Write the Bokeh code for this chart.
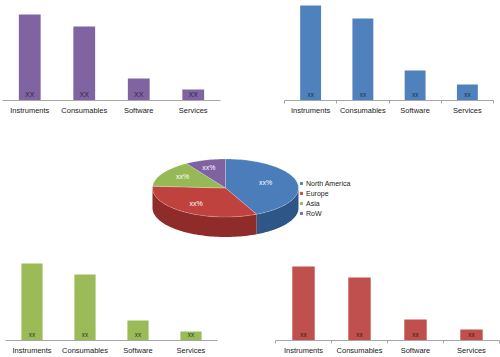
import numpy as np
from bokeh.plotting import figure
from bokeh.layouts import column, row
from bokeh.models import Range1d, FactorRange, ColumnDataSource, FixedTicker
from bokeh.embed import file_html
from bokeh.resources import INLINE
from bokeh.core.properties import value

# ---------------- data ----------------
categories = ["Instruments", "Consumables", "Software", "Services"]
purple_values = [86, 74, 22, 11]
blue_values = [95, 82, 30, 16]
green_values = [77, 66, 20, 9]
red_values = [74, 63, 21, 11]
bar_labels_upper = ["XX", "XX", "XX", "XX"]
bar_labels_lower = ["xx", "xx", "xx", "xx"]

regions = ["North America", "Europe", "Asia", "RoW"]
region_shares = [43, 33, 15, 9]
pie_labels = ["xx%", "xx%", "xx%", "xx%"]

# ---------------- styles ----------------
FONT = "Liberation Sans"
PURPLE, BLUE, GREEN, RED = "#8064A2", "#4F81BD", "#9BBB59", "#C0504D"
top_colors = ["#4A7DBA", "#C0423F", "#97B955", "#7E62A1"]
side_colors = ["#2E5788", "#8F2B28", "#6E8A3A", "#5A457A"]
AXIS_GREY = "#a6a6a6"


def bar_chart(vals, color, labels, width, height, ymax, bl, br, bb,
              lab_size, lab_color, boundary_ticks):
    n = len(categories)
    kw = dict(y_range=Range1d(0, ymax), width=width, height=height,
              output_backend="svg", toolbar_location=None, y_axis_location=None,
              min_border_left=bl, min_border_right=br,
              min_border_top=0, min_border_bottom=bb)
    if boundary_ticks:
        # numeric slots so that small ticks can mark the category boundaries
        xs = list(np.arange(n) + 0.5)
        p = figure(x_range=Range1d(0, n), **kw)
    else:
        xs = categories
        p = figure(x_range=FactorRange(*categories), **kw)
    src = ColumnDataSource(dict(x=xs, val=vals, lab=labels))
    p.vbar(x="x", top="val", width=0.4, source=src,
           fill_color=color, line_color=None)
    p.text(x="x", y=0, text="lab", source=src, y_offset=-6,
           text_align="center", text_baseline="middle",
           text_font=value(FONT), text_font_size=lab_size,
           text_color=lab_color)
    p.grid.visible = False
    p.outline_line_color = None
    ax = p.xaxis[0]
    ax.axis_line_color = AXIS_GREY
    ax.major_tick_line_color = None
    ax.major_tick_out = 0
    ax.major_tick_in = 0
    if boundary_ticks:
        ax.ticker = FixedTicker(ticks=xs, minor_ticks=list(range(n + 1)))
        ax.major_label_overrides = {float(x): c for x, c in zip(xs, categories)}
        ax.minor_tick_line_color = AXIS_GREY
        ax.minor_tick_out = 3
        ax.minor_tick_in = 0
        ax.major_label_standoff = 2
    else:
        ax.minor_tick_line_color = None
        ax.major_label_standoff = 5
    ax.major_label_text_font = FONT
    ax.major_label_text_font_size = "7.5px"
    ax.major_label_text_color = "#1a1a1a"
    return p


tl = bar_chart(purple_values, PURPLE, bar_labels_upper, 250, 120, 100, 2, 30, 20, "7px", "#2e2640", False)
tr = bar_chart(blue_values, BLUE, bar_labels_lower, 250, 120, 100, 34, 7, 20, "6.5px", "#1f2f45", True)
bl = bar_chart(green_values, GREEN, bar_labels_lower, 250, 112, 95, 5, 33, 17, "6.5px", "#2f3a1c", False)
br = bar_chart(red_values, RED, bar_labels_lower, 250, 112, 95, 25, 1, 17, "6.5px", "#3f1a19", True)

# ---------------- 3D pie ----------------
CX, CY, A, B, D = 225.0, 187.5, 73.0, 29.0, 20.0
pie = figure(width=500, height=125, x_range=Range1d(0, 500), y_range=Range1d(245, 120),
             output_backend="svg", toolbar_location=None,
             x_axis_location=None, y_axis_location=None, min_border=0)
pie.grid.visible = False
pie.outline_line_color = None

shares = np.array(region_shares, dtype=float)
edges = np.pi / 2 - 2 * np.pi * np.concatenate([[0.0], np.cumsum(shares / shares.sum())])

side_xs, side_ys, side_cols = [], [], []
top_xs, top_ys = [], []
lab_x, lab_y = [], []
for i in range(len(regions)):
    a0, a1 = edges[i], edges[i + 1]
    t = np.linspace(a0, a1, 80)
    top_xs.append(list(np.concatenate([[CX], CX + A * np.cos(t)])))
    top_ys.append(list(np.concatenate([[CY], CY - B * np.sin(t)])))
    hi, lo = min(a0, 0.0), max(a1, -np.pi)
    if hi > lo:
        s = np.linspace(hi, lo, 60)
        ex = CX + A * np.cos(s)
        ey = CY - B * np.sin(s)
        side_xs.append(list(np.concatenate([ex, ex[::-1]])))
        side_ys.append(list(np.concatenate([ey, (ey + D)[::-1]])))
        side_cols.append(side_colors[i])
    m = (a0 + a1) / 2
    lab_x.append(CX + 0.62 * A * np.cos(m) - 4)
    lab_y.append(CY - 0.7 * B * np.sin(m) - 1)

pie.patches(xs=side_xs, ys=side_ys, fill_color=side_cols, line_color=None)
top_src = ColumnDataSource(dict(xs=top_xs, ys=top_ys, color=top_colors, label=regions))
pie.patches(xs="xs", ys="ys", fill_color="color", line_color="white", line_alpha=0.35,
            line_width=0.6, source=top_src, legend_field="label")
pie.text(x=lab_x, y=lab_y, text=pie_labels, text_align="center", text_baseline="middle",
         text_font=value(FONT), text_font_size="7px", text_color="white")

lg = pie.legend[0]
lg.location = (299, 27)
lg.border_line_color = None
lg.background_fill_alpha = 0
lg.padding = 0
lg.margin = 0
lg.spacing = 0
lg.glyph_width = 4
lg.glyph_height = 4
lg.label_height = 10
lg.label_standoff = 3
lg.label_text_font = FONT
lg.label_text_font_size = "7px"
lg.label_text_color = "#222222"

layout = column(row(tl, tr), pie, row(bl, br), margin=(-8, -8, -8, -8),
                styles={"margin": "0px"})

open("out.html", "w").write(file_html(layout, INLINE))
